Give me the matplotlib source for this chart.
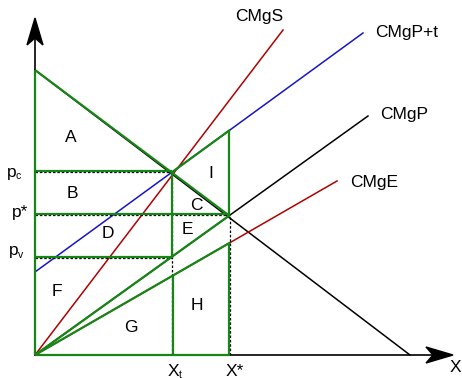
import numpy as np
import matplotlib
matplotlib.use("Agg")
import matplotlib.pyplot as plt
from matplotlib.patches import Polygon

plt.rcParams['font.family'] = ['Liberation Sans', 'DejaVu Sans']

# ---- data (diagram units, origin at axes crossing) ----
demand_x = [0, 375]
demand_y = [285, 0]
cmgs_x = [0, 248]
cmgs_y = [0, 325]
cmgpt_x = [0, 328]
cmgpt_y = [83, 322]
cmgp_x = [0, 333]
cmgp_y = [0, 239]
cmge_x = [0, 302]
cmge_y = [0, 174]

Xt = 137
Xstar = 195
pc = 183
pstar = 140
pv = 97

curve_labels = ["CMgS", "CMgP+t", "CMgP", "CMgE"]
area_labels = ["A", "B", "C", "D", "E", "F", "G", "H", "I"]
area_pos_x = [36, 37, 161, 73, 152, 22, 96, 162, 176]
area_pos_y = [218, 161, 150, 121, 126, 64, 27, 50, 182]

def line_at(xs, ys, x):
    return np.interp(x, xs, ys)

fig = plt.figure(figsize=(4.62, 3.78), dpi=100)
ax = fig.add_axes([0, 0, 1, 1])
ax.set_xlim(-35, 427)
ax.set_ylim(-23, 355)
ax.axis('off')

black = 'black'
red = '#b00000'
blue = '#1515c8'
green = '#178617'

# axes
ymax = 337
xmax = 418
ax.plot([0, 0], [0, ymax - 20], color=black, lw=1.2, zorder=2)
ax.plot([0, xmax - 20], [0, 0], color=black, lw=1.2, zorder=2)
hl, hw, nl = 27, 8, 7
ax.add_patch(Polygon([[0, ymax], [-hw, ymax - hl], [0, ymax - hl + nl], [hw, ymax - hl]],
                     closed=True, color=black, zorder=5))
ax.add_patch(Polygon([[xmax, 0], [xmax - hl, hw], [xmax - hl + nl, 0], [xmax - hl, -hw]],
                     closed=True, color=black, zorder=5))

# curves
ax.plot(demand_x, demand_y, color=black, lw=1.1, zorder=3)
ax.plot(cmgp_x, cmgp_y, color=black, lw=1.1, zorder=3)
ax.plot(cmgs_x, cmgs_y, color=red, lw=1.1, zorder=3)
ax.plot(cmge_x, cmge_y, color=red, lw=1.1, zorder=3)
ax.plot(cmgpt_x, cmgpt_y, color=blue, lw=1.1, zorder=3)

# dotted reference lines
dk = dict(color=black, lw=0.9, ls=(0, (2, 1.5)), zorder=3)
ax.plot([0, Xt], [pc, pc], **dk)
ax.plot([0, Xstar], [pstar, pstar], **dk)
ax.plot([0, Xt], [pv, pv], **dk)
ax.plot([Xt, Xt], [0, pc], **dk)
ax.plot([Xstar, Xstar], [0, pstar], **dk)

# green outlines
g = dict(color=green, lw=1.6, zorder=4, solid_capstyle='butt')
d_top = line_at(demand_x, demand_y, 0)
ax.plot([0, 0], [0, d_top], **g)
ax.plot([0, Xstar], [d_top, line_at(demand_x, demand_y, Xstar) + 2], **g)
ax.plot([0, Xt], [pc + 1, pc + 1], **g)
ax.plot([0, Xstar], [pstar + 1.5, pstar + 1.5], **g)
ax.plot([0, Xt], [pv + 1.5, pv + 1.5], **g)
ax.plot([0, Xstar], [0.5, 0.5], **g)
pt_star = line_at(cmgpt_x, cmgpt_y, Xstar)
ax.plot([Xt, Xstar], [line_at(cmgpt_x, cmgpt_y, Xt), pt_star], **g)
ax.plot([Xstar - 1, Xstar - 1], [pt_star, pstar], **g)
ax.plot([Xstar - 1, Xstar - 1], [0, line_at(cmge_x, cmge_y, Xstar)], **g)
ax.plot([Xt, Xt], [pc, pv], **g)
ax.plot([Xt + 1, Xt + 1], [0, line_at(cmge_x, cmge_y, Xt)], **g)
ax.plot([0, Xstar], [0, line_at(cmgp_x, cmgp_y, Xstar)], **g)
ax.plot([0, Xstar], [0, line_at(cmge_x, cmge_y, Xstar)], **g)

fs = 12.5
sfs = 7.5
# area labels
for lab, x, y in zip(area_labels, area_pos_x, area_pos_y):
    ax.text(x, y, lab, fontsize=fs, ha='center', va='center', zorder=6)

# curve labels
ax.text(224, 339, curve_labels[0], fontsize=fs, ha='center', va='center')
ax.text(340, 323, curve_labels[1], fontsize=fs, ha='left', va='center')
ax.text(345, 241, curve_labels[2], fontsize=fs, ha='left', va='center')
ax.text(315, 173, curve_labels[3], fontsize=fs, ha='left', va='center')

# price labels
ax.text(-28, 183, 'p', fontsize=fs, ha='left', va='center')
ax.text(-19, 179, 'c', fontsize=sfs, ha='left', va='center')
ax.text(-23, 143, 'p*', fontsize=fs, ha='left', va='center')
ax.text(-26, 104, 'p', fontsize=fs, ha='left', va='center')
ax.text(-17, 100, 'v', fontsize=sfs, ha='left', va='center')

# quantity labels
ax.text(Xt + 1, -17, 'X', fontsize=fs, ha='center', va='center')
ax.text(Xt + 8, -19.5, 't', fontsize=sfs, ha='center', va='center')
ax.text(Xstar + 5, -16, 'X*', fontsize=fs, ha='center', va='center')
ax.text(420, -12, 'X', fontsize=fs, ha='center', va='center')

fig.savefig('out.png', dpi=100)
